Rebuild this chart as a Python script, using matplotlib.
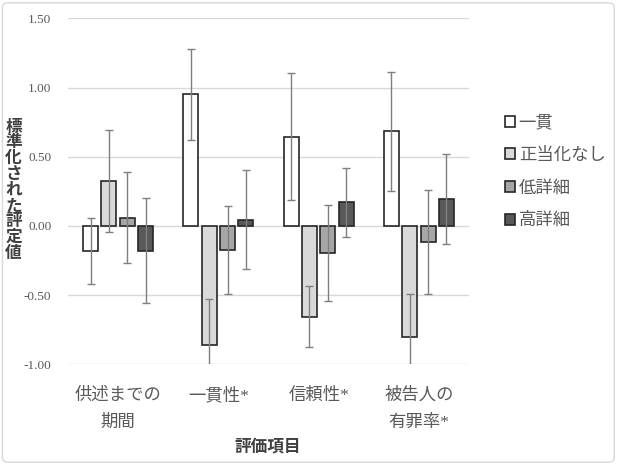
import matplotlib.pyplot as plt
import numpy as np
from matplotlib.patches import FancyBboxPatch

plt.rcParams["font.family"] = ["Liberation Serif", "Noto Sans CJK JP", "DejaVu Sans"]

categories = ["供述までの\n期間", "一貫性*", "信頼性*", "被告人の\n有罪率*"]
series = ["一貫", "正当化なし", "低詳細", "高詳細"]
means = [
    [-0.18, 0.95, 0.645, 0.685],    # 一貫
    [0.325, -0.86, -0.655, -0.805],  # 正当化なし
    [0.06, -0.175, -0.195, -0.115],  # 低詳細
    [-0.18, 0.045, 0.17, 0.195],     # 高詳細
]
errors = [
    [0.24, 0.33, 0.46, 0.43],
    [0.37, 0.33, 0.22, 0.31],
    [0.33, 0.32, 0.345, 0.375],
    [0.38, 0.36, 0.25, 0.325],
]
colors = ["#ffffff", "#d9d9d9", "#a6a6a6", "#595959"]
yticks = [-1.0, -0.5, 0.0, 0.5, 1.0, 1.5]

fig = plt.figure(figsize=(6.18, 4.65), dpi=100)
ax = fig.add_axes([0.110, 0.2166, 0.649, 0.744])

x = np.arange(len(categories))
step = 0.183
width = 0.15
for i, (name, vals, errs, col) in enumerate(zip(series, means, errors, colors)):
    pos = x + (i - 1.5) * step
    ax.bar(pos, vals, width, color=col, edgecolor="#262626", linewidth=1.2,
           label=name, zorder=3)
    ax.errorbar(pos, vals, yerr=errs, fmt="none", ecolor="#7f7f7f",
                elinewidth=1.0, capsize=3, capthick=1.0, zorder=4)

ax.set_ylim(-1.0, 1.5)
ax.set_xlim(-0.5, 3.5)
ax.set_yticks(yticks)
ax.set_yticklabels([f"{t:.2f}" for t in yticks])
ax.yaxis.grid(True, color="#d9d9d9", linewidth=1.0, zorder=0)
ax.set_axisbelow(True)
for s in ax.spines.values():
    s.set_visible(False)
ax.tick_params(axis="both", length=0, colors="#595959")
ax.tick_params(axis="y", labelsize=9.5, pad=12)
ax.set_xticks(x)
ax.set_xticklabels(categories, fontsize=12.5, linespacing=1.85,
                   va="top")
ax.tick_params(axis="x", pad=17)

fig.text(0.022, 0.59, "\n".join("標準化された評定値"), fontsize=12,
         fontweight="bold", color="#404040", ha="center", va="center",
         linespacing=0.98)
fig.text(0.434, 0.038, "評価項目", fontsize=12, fontweight="bold",
         color="#404040", ha="center", va="center")

leg = ax.legend(loc="center left", bbox_to_anchor=(1.05, 0.555), frameon=False,
                fontsize=12.5, handlelength=0.6, handleheight=0.6,
                handletextpad=0.2, labelspacing=0.95, labelcolor="#595959")

border = FancyBboxPatch((0.004, 0.006), 0.99, 0.988, boxstyle="round,pad=0,rounding_size=0.01",
                        transform=fig.transFigure, fill=False,
                        edgecolor="#d9d9d9", linewidth=1.0)
fig.patches.append(border)

fig.savefig("out.png", dpi=100)
